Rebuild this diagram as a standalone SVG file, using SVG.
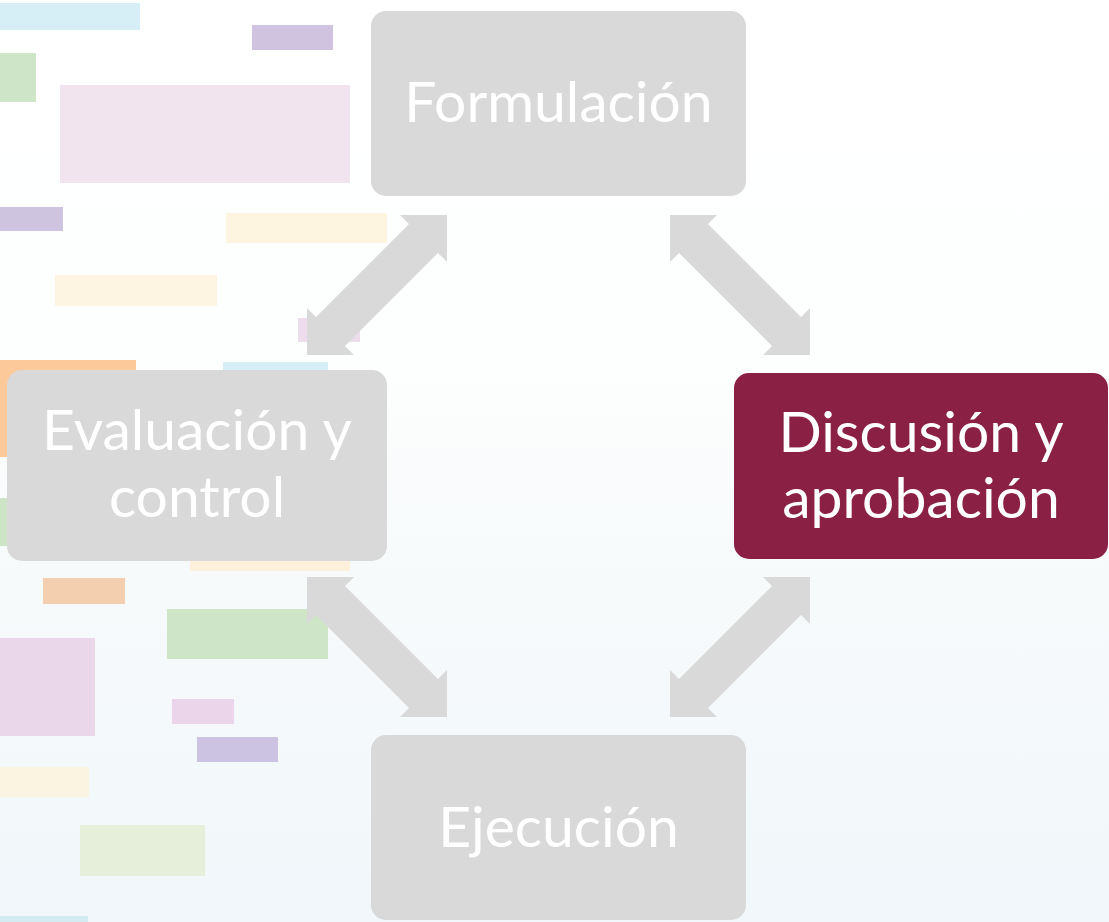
<svg xmlns="http://www.w3.org/2000/svg" width="1109" height="922" viewBox="0 0 1109 922">
<defs>
<linearGradient id="bg" x1="0" y1="0" x2="0" y2="1">
<stop offset="0" stop-color="#ffffff"/>
<stop offset="0.4" stop-color="#fdfefe"/>
<stop offset="0.62" stop-color="#f7fafb"/>
<stop offset="1" stop-color="#f1f7fa"/>
</linearGradient>
<style>
.node{fill:#d9d9d9}
.hl{fill:#8b2045}
.lbl{font-family:Lato,"Liberation Sans",sans-serif;font-size:57px;fill:#ffffff;text-anchor:middle}
.arr{fill:#d9d9d9}
</style>
</defs>
<rect width="1109" height="922" fill="url(#bg)"/>
<g id="background">
<rect x="0" y="3" width="140" height="27" fill="#d6eef5"/>
<rect x="252" y="25" width="81" height="25" fill="#cfc3df"/>
<rect x="0" y="53" width="36" height="49" fill="#cfe5c8"/>
<rect x="60" y="85" width="290" height="98" fill="#f1e4ef"/>
<rect x="0" y="207" width="63" height="24" fill="#cfc4e0"/>
<rect x="226" y="213" width="161" height="30" fill="#fdf5df"/>
<rect x="55" y="275" width="162" height="31" fill="#fdf4e1"/>
<rect x="298" y="318" width="62" height="24" fill="#ecdcec"/>
<rect x="0" y="360" width="136" height="97" fill="#fcc99a"/>
<rect x="223" y="362" width="105" height="20" fill="#d8eef6"/>
<rect x="0" y="498" width="20" height="48" fill="#cde5c6"/>
<rect x="190" y="550" width="160" height="21" fill="#fdf0dc"/>
<rect x="43" y="578" width="82" height="26" fill="#f3cfb0"/>
<rect x="167" y="609" width="161" height="50" fill="#cfe5c8"/>
<rect x="0" y="638" width="95" height="98" fill="#ead8ea"/>
<rect x="172" y="699" width="62" height="25" fill="#ead5ea"/>
<rect x="197" y="737" width="81" height="25" fill="#cbc3e1"/>
<rect x="0" y="767" width="89" height="30" fill="#fbf4e0"/>
<rect x="80" y="825" width="125" height="51" fill="#e6efd9"/>
<rect x="0" y="916" width="88" height="6" fill="#d4ebf2"/>
</g>
<g id="connectors">
<polygon class="arr" points="447,215 447,262 438,253 345,346 354,355 307,355 307,308 316,317 409,224 400,215"/>
<polygon class="arr" points="670,215 670,262 679,253 772,346 763,355 810,355 810,308 801,317 708,224 717,215"/>
<polygon class="arr" points="307,577 307,624 316,615 409,708 400,717 447,717 447,670 438,679 345,586 354,577"/>
<polygon class="arr" points="810,577 810,624 801,615 708,708 717,717 670,717 670,670 679,679 772,586 763,577"/>
</g>
<g id="node-formulacion">
<rect class="node" x="371" y="11" width="375" height="185" rx="15"/>
<text class="lbl" x="558.5" y="122">Formulación</text>
</g>
<g id="node-discusion">
<rect class="hl" x="734" y="373" width="374" height="186" rx="15"/>
<text class="lbl" x="921" y="452">Discusión y</text>
<text class="lbl" x="921" y="518">aprobación</text>
</g>
<g id="node-ejecucion">
<rect class="node" x="371" y="735" width="375" height="185" rx="15"/>
<text class="lbl" x="558.5" y="847">Ejecución</text>
</g>
<g id="node-evaluacion">
<rect class="node" x="7" y="370" width="380" height="191" rx="15"/>
<text class="lbl" x="197" y="450">Evaluación y</text>
<text class="lbl" x="197" y="517">control</text>
</g>
</svg>
